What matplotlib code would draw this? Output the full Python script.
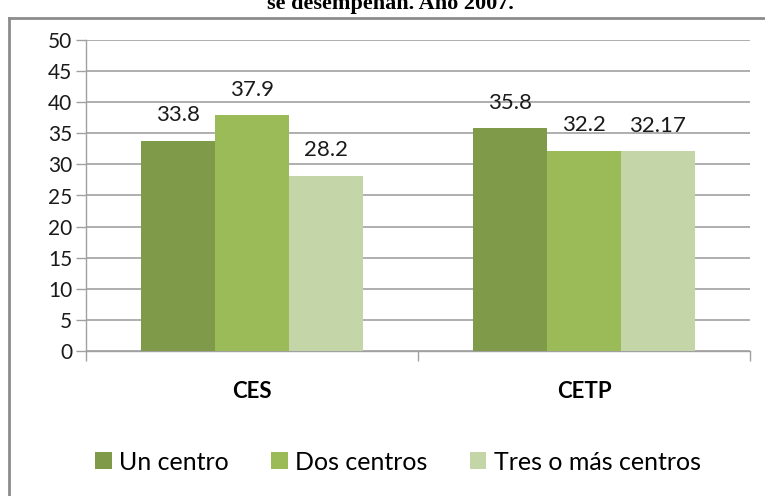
import matplotlib
matplotlib.use("Agg")
import matplotlib.pyplot as plt
from matplotlib.patches import Patch
import numpy as np

categories = ["CES", "CETP"]
series_names = ["Un centro", "Dos centros", "Tres o más centros"]
un_centro = [33.8, 35.8]
dos_centros = [37.9, 32.2]
tres_centros = [28.2, 32.17]
label_text = [["33.8", "35.8"], ["37.9", "32.2"], ["28.2", "32.17"]]
yticks = [0, 5, 10, 15, 20, 25, 30, 35, 40, 45, 50]
colors = ["#7F9A48", "#9BBB59", "#C4D6A8"]

plt.rcParams['font.family'] = ['Lato', 'DejaVu Sans']

fig = plt.figure(figsize=(7.65, 4.96), dpi=100)
fig.patch.set_facecolor("white")

# outer frame (only top and left visible)
fig.add_artist(plt.Line2D([9/765, 9/765], [0, 1 - 18/496], color="#8C8C8C", lw=2, transform=fig.transFigure))
fig.add_artist(plt.Line2D([9/765, 1.0], [1 - 18/496, 1 - 18/496], color="#8C8C8C", lw=2, transform=fig.transFigure))

# title partially cut off (as in the reference)
fig.text(390/765, 1 - 9/496, "se desempeñan. Año 2007.", ha="center", va="baseline",
         family=["Liberation Serif", "DejaVu Serif"], fontweight="bold", fontsize=16)

ax = fig.add_axes([86/765, 1 - 351/496, (750 - 86)/765, (351 - 40)/496])
x = np.arange(len(categories))
w = 0.222
series = [un_centro, dos_centros, tres_centros]
for i, (vals, c) in enumerate(zip(series, colors)):
    pos = x + (i - 1) * w
    ax.bar(pos, vals, width=w, color=c, zorder=3)
    for p, v, t in zip(pos, vals, label_text[i]):
        ax.annotate(t, (p, v), xytext=(0, 11), textcoords="offset points",
                    ha="center", va="bottom", fontsize=16, color="#1A1A1A")

ax.set_xlim(-0.5, 1.5)
ax.set_ylim(0, 50)
ax.set_yticks(yticks)
ax.set_yticklabels([str(t) for t in yticks], fontsize=15)
ax.yaxis.grid(True, color="#A8A8A8", lw=1.3, zorder=0)
ax.set_axisbelow(True)
ax.set_xticks([-0.5, 0.5, 1.5])
ax.set_xticklabels([])
ax.tick_params(axis="x", length=7, color="#A0A0A0", width=1)
ax.tick_params(axis="y", length=7, color="#A0A0A0", width=1, pad=3, labelcolor="#1A1A1A")
for s in ["top", "right"]:
    ax.spines[s].set_visible(False)
for s in ["left", "bottom"]:
    ax.spines[s].set_color("#A0A0A0")
    ax.spines[s].set_linewidth(1)

for xi, cat in zip(x, categories):
    ax.text(xi, -41/311*50, cat, ha="center", va="center", fontsize=16, fontweight="bold",
            transform=ax.transData, clip_on=False, color="black")

handles = [Patch(facecolor=c, edgecolor="none") for c in colors]
fig.legend(handles, series_names, loc="center", bbox_to_anchor=(398/765, 1 - 462/496),
           ncol=3, frameon=False, fontsize=18, handlelength=0.65, handleheight=0.65,
           handletextpad=0.3, columnspacing=1.7)

fig.savefig("out.png", dpi=100, facecolor="white")
